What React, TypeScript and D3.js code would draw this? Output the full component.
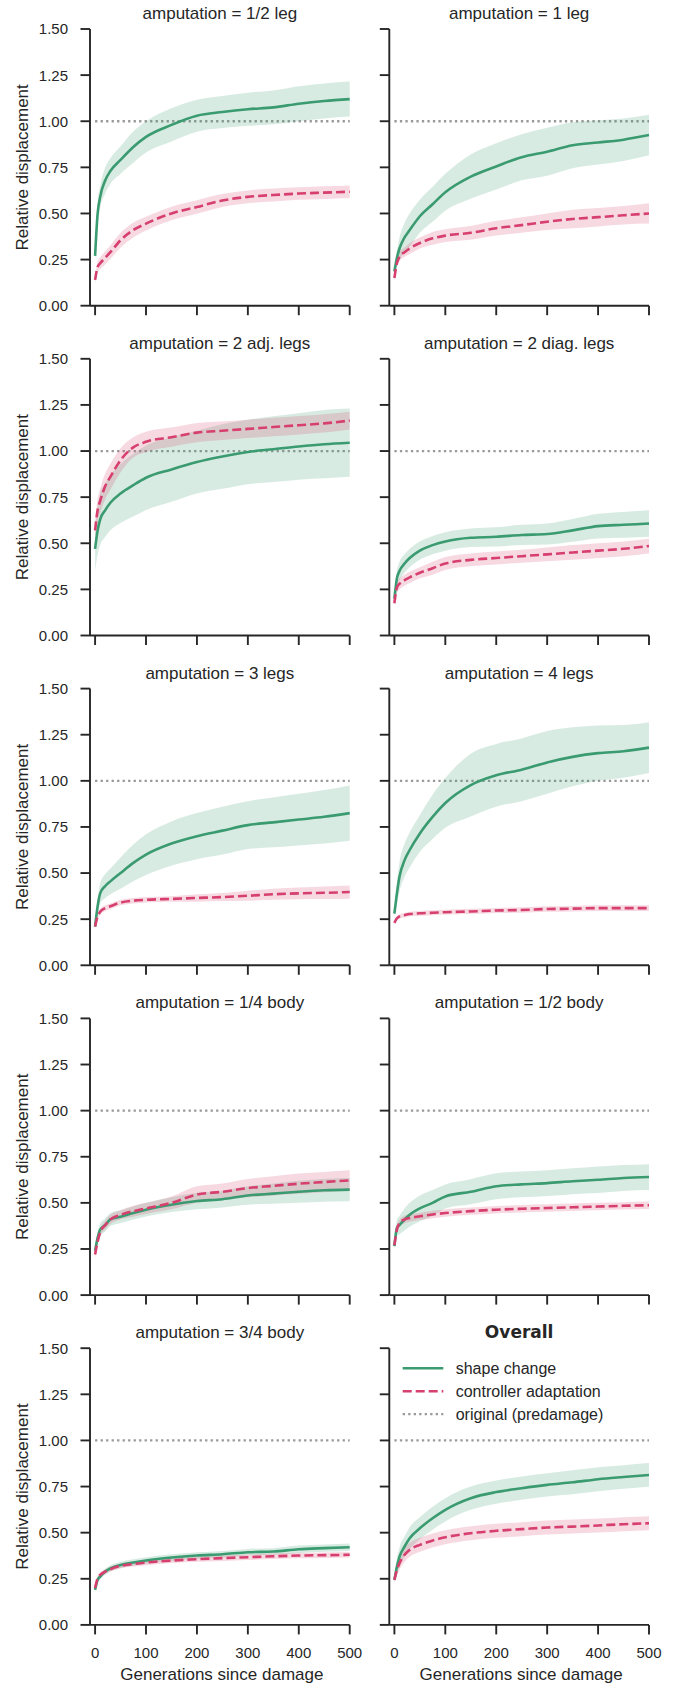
import React from 'react';
import * as d3 from 'd3';

const GENS = [0, 5, 10, 20, 30, 50, 75, 100, 150, 200, 250, 300, 350, 400, 450, 500];

const Y_TICKS = [0, 0.25, 0.5, 0.75, 1.0, 1.25, 1.5];
const X_TICKS = [0, 100, 200, 300, 400, 500];

const TITLES = [
  'amputation = 1/2 leg',
  'amputation = 1 leg',
  'amputation = 2 adj. legs',
  'amputation = 2 diag. legs',
  'amputation = 3 legs',
  'amputation = 4 legs',
  'amputation = 1/4 body',
  'amputation = 1/2 body',
  'amputation = 3/4 body',
  'Overall',
];

const LEGEND = ['shape change', 'controller adaptation', 'original (predamage)'];

// mean curves + half width of the shaded band
const halfLegShape = [0.27, 0.5, 0.59, 0.68, 0.73, 0.79, 0.86, 0.915, 0.98, 1.03, 1.05, 1.065, 1.075, 1.095, 1.11, 1.12];
const halfLegShapeErr = [0.03, 0.06, 0.06, 0.07, 0.07, 0.075, 0.085, 0.085, 0.09, 0.087, 0.087, 0.09, 0.092, 0.095, 0.095, 0.095];
const halfLegCtrl = [0.14, 0.21, 0.23, 0.26, 0.29, 0.355, 0.41, 0.445, 0.5, 0.535, 0.57, 0.59, 0.6, 0.608, 0.613, 0.618];
const halfLegCtrlErr = [0.02, 0.03, 0.032, 0.035, 0.037, 0.04, 0.04, 0.037, 0.037, 0.037, 0.035, 0.035, 0.035, 0.034, 0.034, 0.034];

const oneLegShape = [0.185, 0.26, 0.31, 0.37, 0.41, 0.485, 0.55, 0.615, 0.7, 0.755, 0.805, 0.835, 0.87, 0.885, 0.9, 0.925];
const oneLegShapeErr = [0.015, 0.04, 0.06, 0.08, 0.09, 0.09, 0.095, 0.1, 0.12, 0.125, 0.125, 0.13, 0.125, 0.12, 0.115, 0.11];
const oneLegCtrl = [0.15, 0.23, 0.265, 0.29, 0.31, 0.34, 0.365, 0.38, 0.395, 0.42, 0.437, 0.455, 0.47, 0.48, 0.49, 0.5];
const oneLegCtrlErr = [0.02, 0.02, 0.025, 0.025, 0.03, 0.03, 0.035, 0.035, 0.037, 0.04, 0.042, 0.045, 0.05, 0.05, 0.05, 0.055];

const adjLegsShape = [0.47, 0.57, 0.63, 0.68, 0.72, 0.77, 0.815, 0.855, 0.9, 0.94, 0.97, 0.995, 1.01, 1.025, 1.037, 1.045];
const adjLegsShapeErr = [0.12, 0.13, 0.14, 0.145, 0.15, 0.16, 0.17, 0.175, 0.175, 0.17, 0.175, 0.175, 0.178, 0.18, 0.185, 0.185];
const adjLegsCtrl = [0.57, 0.68, 0.73, 0.81, 0.86, 0.95, 1.02, 1.05, 1.075, 1.1, 1.11, 1.12, 1.13, 1.14, 1.15, 1.165];
const adjLegsCtrlErr = [0.05, 0.06, 0.065, 0.07, 0.07, 0.065, 0.055, 0.055, 0.052, 0.052, 0.05, 0.05, 0.05, 0.05, 0.05, 0.048];

const diagLegsShape = [0.2, 0.31, 0.35, 0.39, 0.42, 0.46, 0.49, 0.51, 0.53, 0.535, 0.545, 0.55, 0.57, 0.593, 0.6, 0.607];
const diagLegsShapeErr = [0.02, 0.04, 0.05, 0.05, 0.05, 0.05, 0.05, 0.05, 0.05, 0.052, 0.055, 0.057, 0.062, 0.067, 0.07, 0.072];
const diagLegsCtrl = [0.175, 0.26, 0.28, 0.3, 0.315, 0.34, 0.365, 0.39, 0.41, 0.42, 0.43, 0.44, 0.45, 0.46, 0.47, 0.485];
const diagLegsCtrlErr = [0.015, 0.03, 0.03, 0.03, 0.03, 0.03, 0.035, 0.035, 0.035, 0.035, 0.035, 0.037, 0.04, 0.04, 0.04, 0.04];

const threeLegsShape = [0.21, 0.32, 0.39, 0.43, 0.455, 0.5, 0.555, 0.6, 0.66, 0.7, 0.73, 0.76, 0.775, 0.79, 0.805, 0.825];
const threeLegsShapeErr = [0.01, 0.04, 0.055, 0.065, 0.07, 0.085, 0.1, 0.11, 0.12, 0.125, 0.13, 0.13, 0.135, 0.14, 0.145, 0.15];
const threeLegsCtrl = [0.21, 0.265, 0.29, 0.31, 0.32, 0.34, 0.35, 0.355, 0.36, 0.365, 0.37, 0.377, 0.385, 0.39, 0.393, 0.397];
const threeLegsCtrlErr = [0.01, 0.015, 0.015, 0.015, 0.015, 0.015, 0.015, 0.015, 0.015, 0.02, 0.022, 0.027, 0.03, 0.032, 0.034, 0.036];

const fourLegsShape = [0.28, 0.39, 0.48, 0.57, 0.625, 0.715, 0.805, 0.88, 0.977, 1.03, 1.06, 1.1, 1.13, 1.15, 1.16, 1.18];
const fourLegsShapeErr = [0.02, 0.06, 0.08, 0.09, 0.095, 0.1, 0.12, 0.135, 0.17, 0.17, 0.17, 0.17, 0.16, 0.15, 0.143, 0.138];
const fourLegsCtrl = [0.23, 0.255, 0.265, 0.272, 0.278, 0.282, 0.285, 0.288, 0.292, 0.297, 0.3, 0.305, 0.307, 0.31, 0.31, 0.31];
const fourLegsCtrlErr = [0.01, 0.012, 0.012, 0.012, 0.012, 0.013, 0.013, 0.013, 0.014, 0.014, 0.015, 0.015, 0.015, 0.015, 0.015, 0.015];

const quarterBodyShape = [0.24, 0.31, 0.355, 0.38, 0.41, 0.425, 0.445, 0.463, 0.49, 0.51, 0.52, 0.54, 0.55, 0.56, 0.568, 0.572];
const quarterBodyShapeErr = [0.02, 0.03, 0.035, 0.035, 0.035, 0.035, 0.035, 0.037, 0.04, 0.045, 0.045, 0.05, 0.055, 0.06, 0.062, 0.063];
const quarterBodyCtrl = [0.22, 0.29, 0.34, 0.38, 0.41, 0.435, 0.455, 0.47, 0.5, 0.545, 0.56, 0.58, 0.592, 0.604, 0.613, 0.622];
const quarterBodyCtrlErr = [0.02, 0.02, 0.02, 0.025, 0.025, 0.025, 0.03, 0.03, 0.035, 0.045, 0.045, 0.05, 0.052, 0.055, 0.055, 0.055];

const halfBodyShape = [0.265, 0.365, 0.38, 0.41, 0.435, 0.47, 0.5, 0.535, 0.56, 0.59, 0.6, 0.607, 0.617, 0.625, 0.635, 0.64];
const halfBodyShapeErr = [0.025, 0.045, 0.05, 0.06, 0.065, 0.07, 0.07, 0.065, 0.068, 0.07, 0.07, 0.07, 0.07, 0.072, 0.07, 0.07];
const halfBodyCtrl = [0.27, 0.355, 0.39, 0.41, 0.418, 0.427, 0.437, 0.445, 0.455, 0.463, 0.468, 0.472, 0.476, 0.48, 0.484, 0.487];
const halfBodyCtrlErr = [0.015, 0.018, 0.02, 0.02, 0.02, 0.02, 0.02, 0.02, 0.02, 0.02, 0.02, 0.02, 0.02, 0.02, 0.02, 0.02];

const threeQuarterBodyShape = [0.19, 0.244, 0.262, 0.289, 0.307, 0.325, 0.338, 0.349, 0.365, 0.376, 0.383, 0.394, 0.398, 0.41, 0.416, 0.421];
const threeQuarterBodyShapeErr = [0.015, 0.015, 0.015, 0.017, 0.017, 0.018, 0.018, 0.018, 0.018, 0.018, 0.018, 0.018, 0.018, 0.02, 0.02, 0.02];
const threeQuarterBodyCtrl = [0.2, 0.253, 0.271, 0.289, 0.302, 0.32, 0.33, 0.338, 0.349, 0.356, 0.362, 0.367, 0.372, 0.376, 0.378, 0.38];
const threeQuarterBodyCtrlErr = [0.012, 0.012, 0.012, 0.013, 0.013, 0.013, 0.014, 0.014, 0.014, 0.014, 0.015, 0.015, 0.015, 0.015, 0.015, 0.015];

const overallShape = [0.244, 0.316, 0.37, 0.425, 0.47, 0.524, 0.578, 0.624, 0.687, 0.72, 0.741, 0.759, 0.773, 0.79, 0.802, 0.813];
const overallShapeErr = [0.015, 0.045, 0.05, 0.055, 0.06, 0.06, 0.062, 0.063, 0.063, 0.063, 0.063, 0.063, 0.065, 0.065, 0.064, 0.064];
const overallCtrl = [0.244, 0.298, 0.334, 0.38, 0.407, 0.434, 0.457, 0.475, 0.497, 0.51, 0.519, 0.528, 0.533, 0.539, 0.546, 0.551];
const overallCtrlErr = [0.01, 0.03, 0.035, 0.038, 0.038, 0.038, 0.038, 0.038, 0.038, 0.038, 0.038, 0.038, 0.038, 0.038, 0.038, 0.038];

const panels = [
  [halfLegShape, halfLegShapeErr, halfLegCtrl, halfLegCtrlErr],
  [oneLegShape, oneLegShapeErr, oneLegCtrl, oneLegCtrlErr],
  [adjLegsShape, adjLegsShapeErr, adjLegsCtrl, adjLegsCtrlErr],
  [diagLegsShape, diagLegsShapeErr, diagLegsCtrl, diagLegsCtrlErr],
  [threeLegsShape, threeLegsShapeErr, threeLegsCtrl, threeLegsCtrlErr],
  [fourLegsShape, fourLegsShapeErr, fourLegsCtrl, fourLegsCtrlErr],
  [quarterBodyShape, quarterBodyShapeErr, quarterBodyCtrl, quarterBodyCtrlErr],
  [halfBodyShape, halfBodyShapeErr, halfBodyCtrl, halfBodyCtrlErr],
  [threeQuarterBodyShape, threeQuarterBodyShapeErr, threeQuarterBodyCtrl, threeQuarterBodyCtrlErr],
  [overallShape, overallShapeErr, overallCtrl, overallCtrlErr],
].map(([shape, shapeErr, ctrl, ctrlErr], i) => ({
  title: TITLES[i],
  shape: GENS.map((g, j) => ({ g, m: shape[j], e: shapeErr[j] })),
  ctrl: GENS.map((g, j) => ({ g, m: ctrl[j], e: ctrlErr[j] })),
}));

const GREEN = '#3a9a70';
const PINK = '#d63f6e';
const INK = '#262626';
const FONT = '"Liberation Sans", Arial, sans-serif';

const W = 678;
const H = 1684;
const COL_LEFT = [90, 389.3];
const PLOT_W = 259.7;
const ROW_TOP0 = 29;
const ROW_STEP = 329.8;
const PLOT_H = 276.7;
const TICK = 9.5;

const Panel = ({ p, idx }) => {
  const col = idx % 2;
  const row = Math.floor(idx / 2);
  const left = COL_LEFT[col];
  const top = ROW_TOP0 + row * ROW_STEP;
  const bottom = top + PLOT_H;
  const isBottom = row === 4;
  const isOverall = idx === 9;

  const x = d3.scaleLinear().domain([-10, 500]).range([left, left + PLOT_W]);
  const y = d3.scaleLinear().domain([0, 1.5]).range([bottom, top]);

  const band = d3.area()
    .x(d => x(d.g))
    .y0(d => y(d.m - d.e))
    .y1(d => y(d.m + d.e))
    .curve(d3.curveMonotoneX);
  const line = d3.line()
    .x(d => x(d.g))
    .y(d => y(d.m))
    .curve(d3.curveMonotoneX);

  return (
    <g>
      <text
        x={(left + left + PLOT_W) / 2}
        y={top - 10}
        textAnchor="middle"
        fill={INK}
        style={{
          fontFamily: isOverall ? '"DejaVu Sans", sans-serif' : FONT,
          fontWeight: isOverall ? 'bold' : 'normal',
          fontSize: 17,
        }}
      >
        {p.title}
      </text>

      <line x1={x(0)} x2={x(500)} y1={y(1)} y2={y(1)} stroke="#999" strokeWidth={2.3} strokeDasharray="2.3,3.2" />

      <path d={band(p.shape)} fill={GREEN} fillOpacity={0.2} />
      <path d={band(p.ctrl)} fill={PINK} fillOpacity={0.2} />
      <path d={line(p.shape)} fill="none" stroke={GREEN} strokeWidth={2.6} />
      <path d={line(p.ctrl)} fill="none" stroke={PINK} strokeWidth={2.6} strokeDasharray="9,4" />

      {/* spines */}
      <line x1={left} x2={left} y1={top} y2={bottom} stroke={INK} strokeWidth={1.9} />
      <line x1={left} x2={left + PLOT_W} y1={bottom} y2={bottom} stroke={INK} strokeWidth={1.9} />

      {Y_TICKS.map(t => (
        <g key={'y' + t}>
          <line x1={left - TICK} x2={left} y1={y(t)} y2={y(t)} stroke={INK} strokeWidth={1.9} />
          {col === 0 && (
            <text x={left - 22} y={y(t)} dy="0.36em" textAnchor="end" fill={INK}
              style={{ fontFamily: FONT, fontSize: 15 }}>
              {t.toFixed(2)}
            </text>
          )}
        </g>
      ))}
      {X_TICKS.map(t => (
        <g key={'x' + t}>
          <line x1={x(t)} x2={x(t)} y1={bottom} y2={bottom + TICK} stroke={INK} strokeWidth={1.9} />
          {isBottom && (
            <text x={x(t)} y={bottom + 33} textAnchor="middle" fill={INK}
              style={{ fontFamily: FONT, fontSize: 15 }}>
              {t}
            </text>
          )}
        </g>
      ))}

      {col === 0 && (
        <text
          transform={`translate(28,${(top + bottom) / 2}) rotate(-90)`}
          textAnchor="middle"
          fill={INK}
          style={{ fontFamily: FONT, fontSize: 17 }}
        >
          Relative displacement
        </text>
      )}
      {isBottom && (
        <text x={left + PLOT_W / 2 + 2} y={H - 4} textAnchor="middle" fill={INK}
          style={{ fontFamily: FONT, fontSize: 17 }}>
          Generations since damage
        </text>
      )}

      {isOverall && (
        <g>
          {LEGEND.map((label, i) => {
            const ly = top + 20 + i * 23;
            const styles = [
              { stroke: GREEN, dash: undefined, w: 2.6 },
              { stroke: PINK, dash: '9,4', w: 2.6 },
              { stroke: '#999', dash: '2.3,3.2', w: 2.3 },
            ][i];
            return (
              <g key={label}>
                <line x1={left + 13.4} x2={left + 54} y1={ly} y2={ly}
                  stroke={styles.stroke} strokeWidth={styles.w} strokeDasharray={styles.dash} />
                <text x={left + 66.4} y={ly} dy="0.36em" fill={INK}
                  style={{ fontFamily: FONT, fontSize: 16 }}>
                  {label}
                </text>
              </g>
            );
          })}
        </g>
      )}
    </g>
  );
};

const App = () => {
  return (
    <svg width={W} height={H} style={{ position: 'absolute', left: 0, top: 0, background: '#fff' }}>
      <rect width={W} height={H} fill="#fff" />
      {panels.map((p, i) => (
        <Panel key={p.title} p={p} idx={i} />
      ))}
    </svg>
  );
};

export default App;
